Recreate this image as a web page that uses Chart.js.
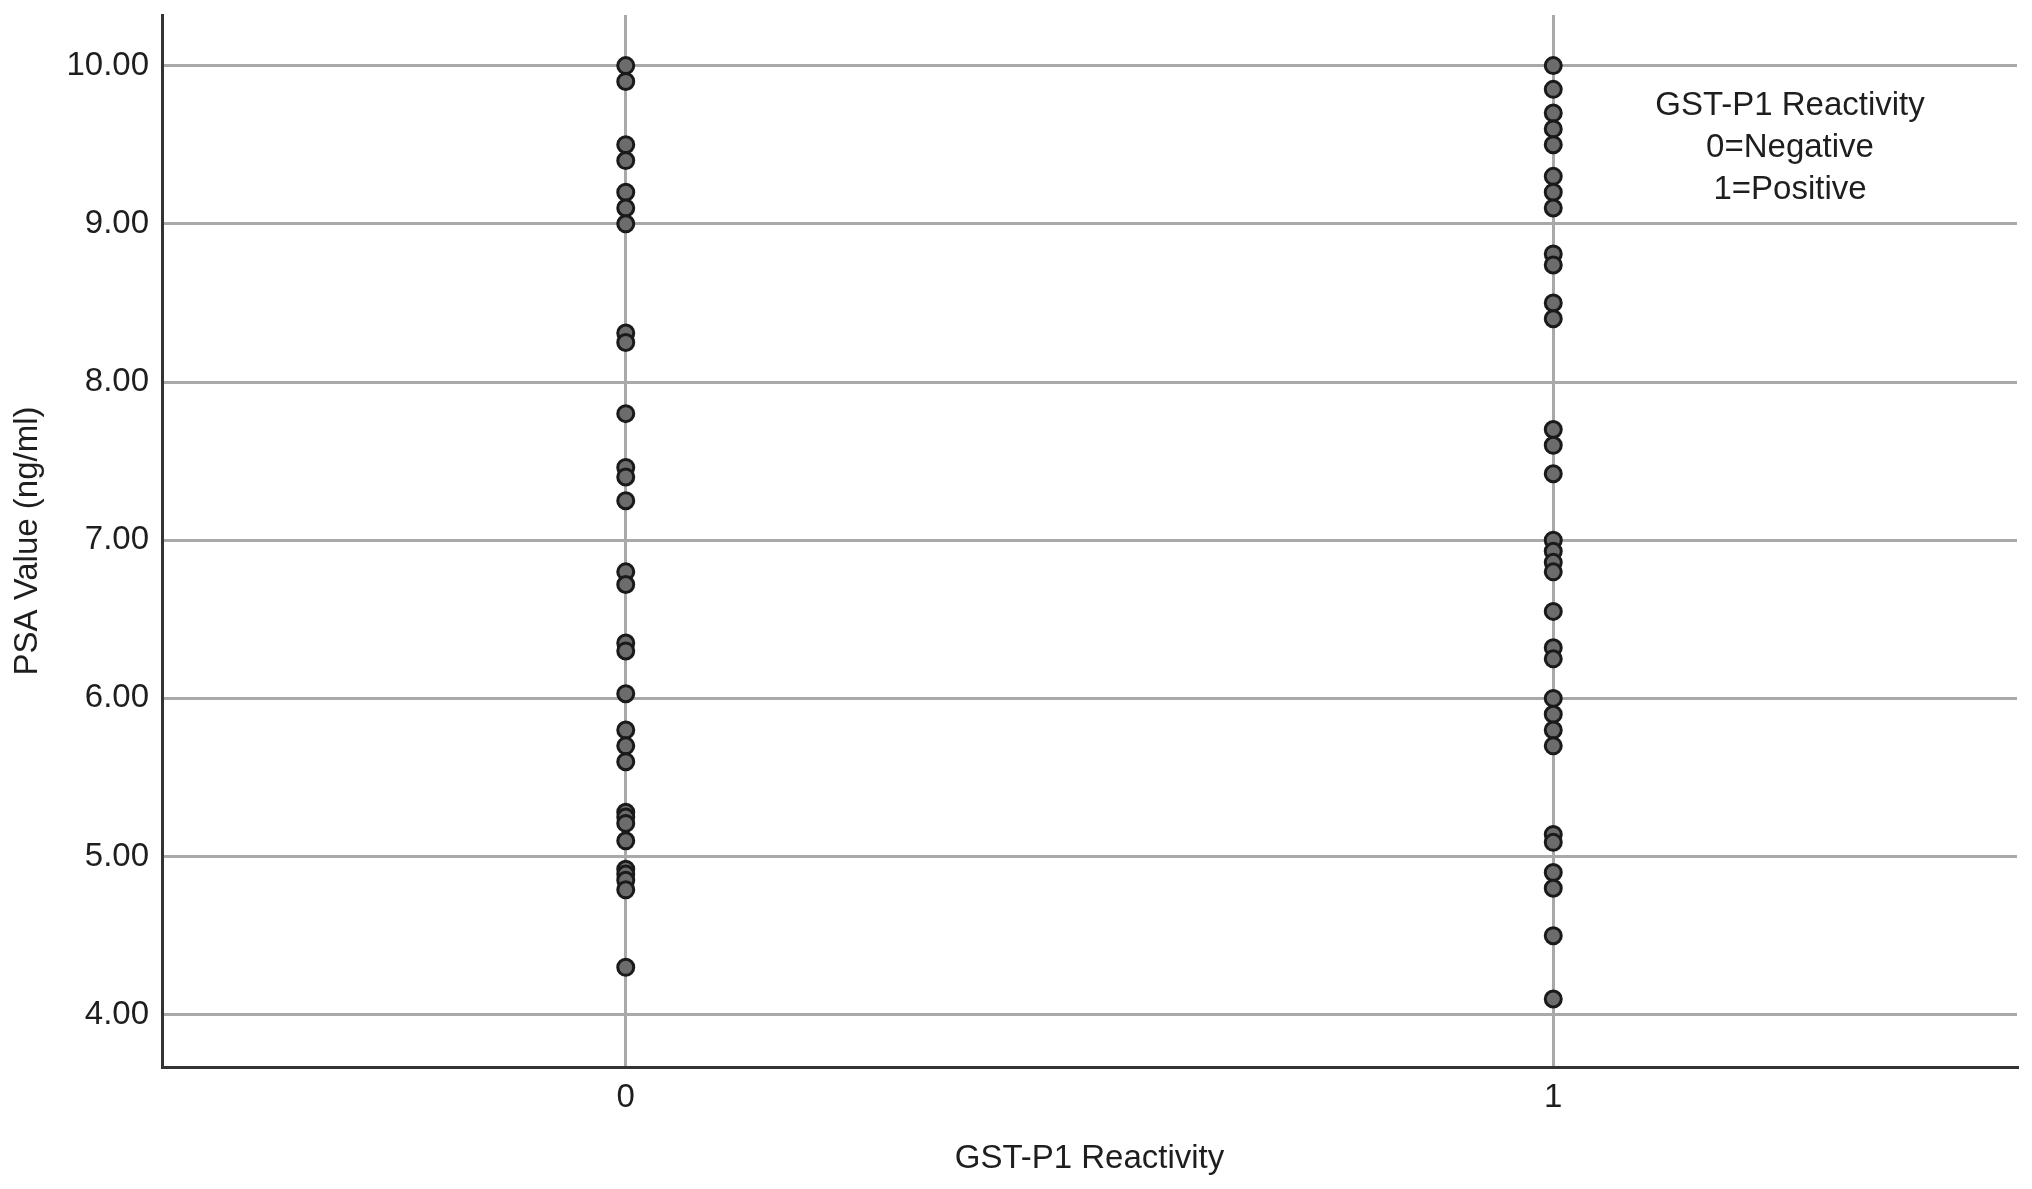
<!DOCTYPE html>
<html>
<head>
<meta charset="utf-8">
<title>PSA value by GST-P1 reactivity</title>
<script src="https://cdn.jsdelivr.net/npm/chart.js@4/dist/chart.umd.min.js"></script>
<style>
  html, body { margin: 0; padding: 0; background: #fff; }
  #wrap { width: 2032px; height: 1189px; }
</style>
</head>
<body>
<div id="wrap"><canvas id="chart"></canvas></div>
<script>
// GST-P1 reactivity groups (x position = group code)
const groups = [0, 1];
const groupTicks = ['0', '1'];
const yTicks = [4, 5, 6, 7, 8, 9, 10];

// PSA values (ng/ml)
const psaNegative = [10.00, 9.90, 9.50, 9.40, 9.20, 9.10, 9.00, 8.31, 8.25, 7.80,
    7.46, 7.40, 7.25, 6.80, 6.72, 6.35, 6.30, 6.03, 5.80, 5.70,
    5.60, 5.28, 5.25, 5.21, 5.10, 4.92, 4.89, 4.85, 4.79, 4.30];
const psaPositive = [10.00, 9.85, 9.70, 9.60, 9.50, 9.30, 9.20, 9.10, 8.81, 8.74,
    8.50, 8.40, 7.70, 7.60, 7.42, 7.00, 6.93, 6.86, 6.80, 6.55,
    6.32, 6.25, 6.00, 5.90, 5.80, 5.70, 5.14, 5.09, 4.90, 4.80,
    4.50, 4.10];

const noteLines = ['GST-P1 Reactivity', '0=Negative', '1=Positive'];

const FONT = "'Liberation Sans', Arial, Helvetica, sans-serif";
const TEXT = '#1e1e1e';
const GRID = '#a9a9a9';

const points = [
    ...psaNegative.map(v => ({ x: groups[0], y: v })),
    ...psaPositive.map(v => ({ x: groups[1], y: v }))
];

// note in the upper right corner
const notePlugin = {
    id: 'note',
    afterDraw(chart) {
        const { ctx, chartArea } = chart;
        ctx.save();
        ctx.font = `33px ${FONT}`;
        ctx.fillStyle = TEXT;
        ctx.textAlign = 'center';
        ctx.textBaseline = 'middle';
        noteLines.forEach((line, i) => {
            ctx.fillText(line, chartArea.right - 227, chartArea.top + 91 + i * 42);
        });
        ctx.restore();
    }
};

new Chart(document.getElementById('chart'), {
    type: 'scatter',
    data: {
        datasets: [{
            label: 'PSA Value',
            data: points,
            pointRadius: 8,
            pointHoverRadius: 8,
            pointBackgroundColor: '#6c6c6c',
            pointBorderColor: '#1a1a1a',
            pointBorderWidth: 3
        }]
    },
    options: {
        responsive: true,
        maintainAspectRatio: false,
        animation: false,
        layout: { padding: { left: 0, right: 15, top: 15, bottom: 0 } },
        plugins: {
            legend: { display: false },
            tooltip: { enabled: false }
        },
        scales: {
            x: {
                type: 'linear',
                min: -0.5,
                max: 1.5,
                afterBuildTicks(scale) {
                    scale.ticks = groups.map(v => ({ value: v }));
                },
                afterFit(scale) {
                    scale.height = 122;
                    scale.paddingLeft = 0;
                    scale.paddingRight = 0;
                },
                grid: { color: GRID, lineWidth: 3, drawTicks: false },
                border: { display: true, color: '#333333', width: 3 },
                ticks: {
                    padding: 11,
                    color: TEXT,
                    font: { family: FONT, size: 33 },
                    callback: (v) => groupTicks[groups.indexOf(v)]
                },
                title: {
                    display: true,
                    text: 'GST-P1 Reactivity',
                    color: TEXT,
                    font: { family: FONT, size: 33 },
                    padding: { top: 0, bottom: 10 }
                }
            },
            y: {
                min: 3.67,
                max: 10.32,
                afterBuildTicks(scale) {
                    scale.ticks = yTicks.map(v => ({ value: v }));
                },
                afterFit(scale) {
                    scale.width = 162;
                    scale.paddingTop = 0;
                    scale.paddingBottom = 0;
                },
                grid: { color: GRID, lineWidth: 3, drawTicks: false },
                border: { display: true, color: '#333333', width: 3 },
                ticks: {
                    padding: 13,
                    color: TEXT,
                    font: { family: FONT, size: 33 },
                    callback: (v) => Number(v).toFixed(2)
                },
                title: {
                    display: true,
                    text: 'PSA Value (ng/ml)',
                    color: TEXT,
                    font: { family: FONT, size: 33 },
                    padding: { top: 8, bottom: 0 }
                }
            }
        }
    },
    plugins: [notePlugin]
});
</script>
</body>
</html>
